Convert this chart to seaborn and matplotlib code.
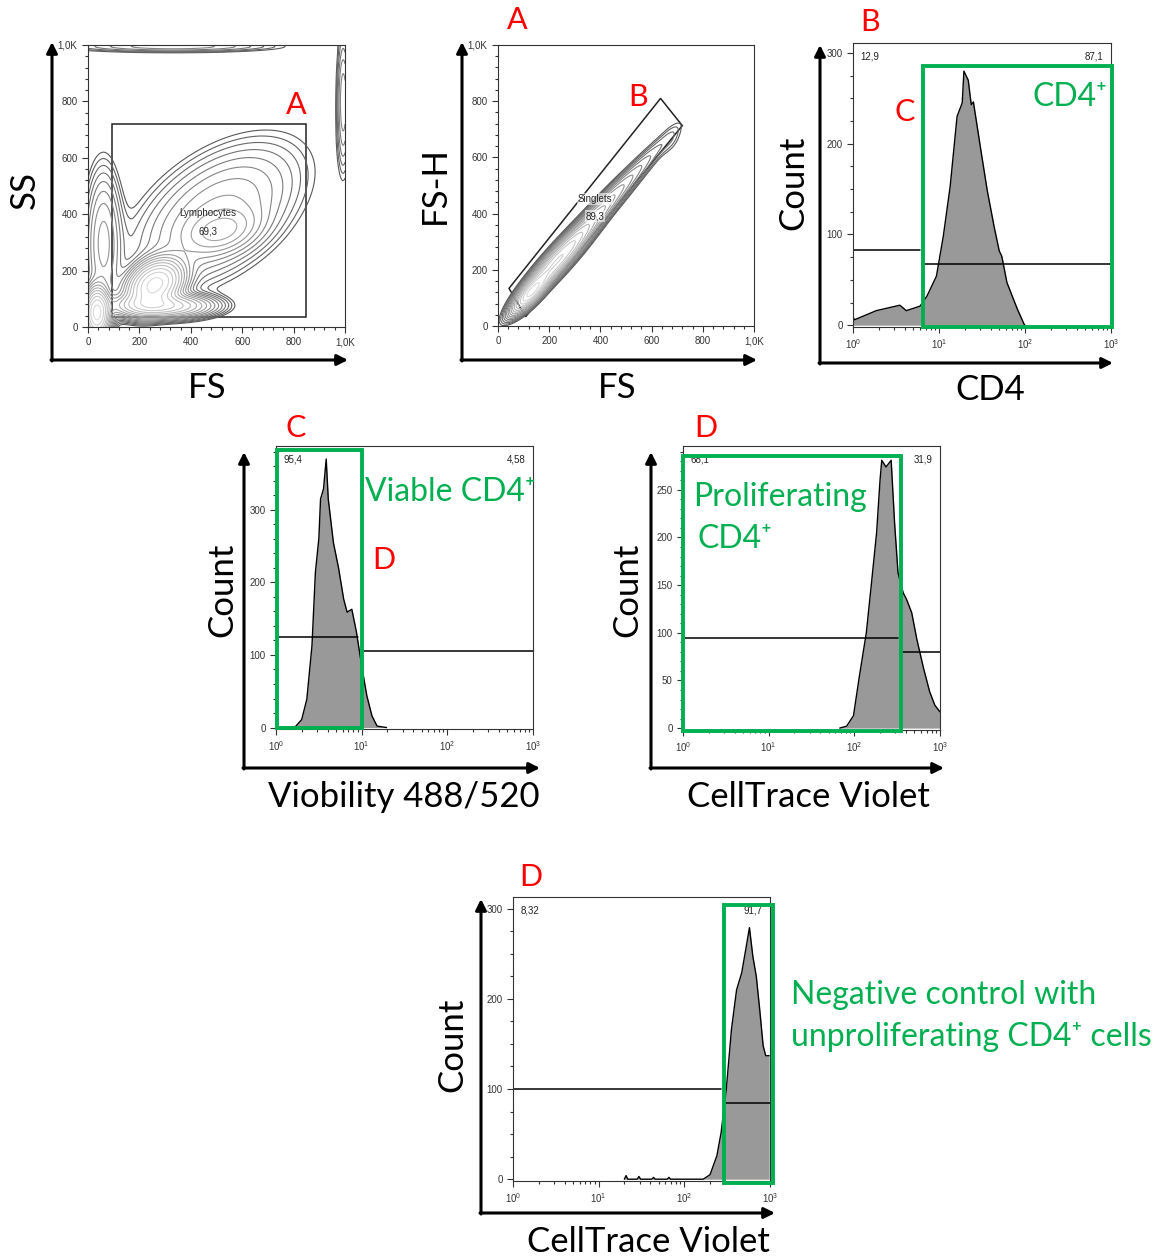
import numpy as np
import matplotlib
matplotlib.use("Agg")
import matplotlib.pyplot as plt
import seaborn as sns
from matplotlib.patches import Rectangle, Polygon
from matplotlib.ticker import MultipleLocator, FixedLocator, FixedFormatter, NullFormatter

sns.set_style("white")
plt.rcParams["font.family"] = ["Lato", "DejaVu Sans"]

W, H = 1158, 1258
GREEN = "#00B050"
RED = "#FF0000"
TICKFONT = "Liberation Sans"

# ---- SS vs FS contour: populations (centre, spread, correlation, weight)
ss_cx = [260, 280, 520, 500, 35, 60, 330, 993]
ss_cy = [150, 75, 340, 400, 50, 300, 995, 800]
ss_sx = [55, 100, 80, 180, 25, 40, 230, 15]
ss_sy = [45, 22, 45, 140, 45, 150, 12, 140]
ss_rho = [0.3, 0.0, 0.3, 0.5, 0.0, 0.0, 0.0, 0.0]
ss_w = [1.0, 0.5, 0.1, 0.08, 1.0, 0.08, 0.05, 0.05]
lymph_gate = [95, 35, 850, 720]          # x0, y0, x1, y1
lymph_label = ("Lymphocytes", "69,3")

# ---- FS-H vs FS contour
fsh_cx = [130, 230, 380, 560, 680]
fsh_cy = [120, 230, 390, 570, 660]
fsh_sx = [35, 75, 90, 90, 30]
fsh_sy = [35, 75, 90, 90, 40]
fsh_rho = [0.8, 0.93, 0.95, 0.95, 0.5]
fsh_w = [1.0, 0.8, 0.15, 0.03, 0.01]
singlet_gate_x = [43, 635, 720, 108]
singlet_gate_y = [134, 810, 713, 33]
singlet_label = ("Singlets", "89,3")

# ---- histograms: log10 position and count
cd4_dec = [0.0, 0.005, 0.02, 0.27, 0.545, 0.62, 0.78, 0.86, 0.97, 1.05, 1.13, 1.21, 1.27,
           1.29, 1.34, 1.375, 1.40, 1.48, 1.56, 1.64, 1.70, 1.73, 1.79, 1.91, 1.99, 2.0]
cd4_cnt = [0, 8, 6, 16, 22, 16, 21, 32, 54, 98, 153, 230, 245,
           280, 270, 243, 246, 197, 149, 109, 82, 76, 47, 18, 1, 0]
cd4_gates = [(1.0, 6.0, 83), (6.5, 1000, 67)]
cd4_pct = ("12,9", "87,1")

via_dec = [0.0, 0.225, 0.30, 0.36, 0.42, 0.46, 0.50, 0.52, 0.555, 0.586, 0.61, 0.67, 0.73,
           0.79, 0.83, 0.885, 0.94, 1.00, 1.06, 1.12, 1.18, 1.29]
via_cnt = [0, 1, 11, 39, 113, 214, 260, 315, 329, 370, 315, 255, 220,
           177, 159, 163, 131, 85, 44, 16, 2, 0]
via_gates = [(1.0, 9.0, 125), (10.5, 1000, 105)]
via_pct = ("95,4", "4,58")

ctv_dec = [1.83, 1.91, 1.99, 2.06, 2.14, 2.20, 2.26, 2.30, 2.32, 2.37, 2.43, 2.47, 2.51,
           2.57, 2.61, 2.67, 2.73, 2.81, 2.88, 2.94, 3.0]
ctv_cnt = [0, 2, 13, 55, 100, 152, 205, 260, 281, 274, 281, 215, 163,
           142, 135, 121, 93, 62, 38, 24, 17]
ctv_gates = [(1.0, 320, 95), (350, 1000, 80)]
ctv_pct = ("68,1", "31,9")

neg_dec = [1.30, 1.32, 1.34, 1.45, 1.47, 1.49, 1.62, 1.64, 1.66, 1.80, 1.82, 1.84, 2.22,
           2.30, 2.38, 2.43, 2.49, 2.55, 2.61, 2.67, 2.73, 2.76, 2.80, 2.84, 2.88, 2.92, 2.95, 2.99]
neg_cnt = [0, 4, 0, 0, 3, 0, 0, 2, 0, 0, 2, 0, 0,
           5, 26, 52, 100, 166, 210, 229, 262, 279, 247, 225, 188, 148, 137, 137]
neg_gates = [(1.0, 270, 100), (290, 1000, 85)]
neg_pct = ("8,32", "91,7")

fig = plt.figure(figsize=(W / 100, H / 100), dpi=100)


def px_axes(left, top, right, bottom):
    return fig.add_axes([left / W, 1 - bottom / H, (right - left) / W, (bottom - top) / H])


def style_axes(ax):
    for s in ax.spines.values():
        s.set_color("#333333")
        s.set_linewidth(0.8)
    ax.tick_params(which="both", direction="out", left=True, bottom=True,
                   colors="#333333", labelsize=7, width=0.8)
    ax.tick_params(which="major", length=4)
    ax.tick_params(which="minor", length=2.5)
    for lab in ax.get_xticklabels() + ax.get_yticklabels():
        lab.set_fontfamily(TICKFONT)


def linear_ticks(ax):
    for axis in (ax.xaxis, ax.yaxis):
        axis.set_major_locator(FixedLocator([0, 200, 400, 600, 800, 1000]))
        axis.set_major_formatter(FixedFormatter(["0", "200", "400", "600", "800", "1,0K"]))
        axis.set_minor_locator(MultipleLocator(40))


def density(cx, cy, sx, sy, rho, w):
    g = np.linspace(0, 1000, 400)
    gx, gy = np.meshgrid(g, g)
    z = np.zeros_like(gx)
    for a, b, s, t, r, k in zip(cx, cy, sx, sy, rho, w):
        u = (gx - a) / s
        v = (gy - b) / t
        z += k * np.exp(-(u * u - 2 * r * u * v + v * v) / (2 * (1 - r * r)))
    return gx, gy, z


def contour_panel(ax, cx, cy, sx, sy, rho, w, lo=0.008):
    gx, gy, z = density(cx, cy, sx, sy, rho, w)
    levels = np.geomspace(z.max() * lo, z.max() * 0.85, 16)
    cols = plt.cm.gray(np.linspace(0.35, 0.85, len(levels)))
    ax.contour(gx, gy, z, levels=levels, colors=cols, linewidths=0.8)
    ax.set_xlim(0, 1000)
    ax.set_ylim(0, 1000)
    linear_ticks(ax)
    style_axes(ax)


def hist_panel(ax, dec, cnt, gates, pct, ymax, ymajor, yminor):
    xs = 10 ** np.array(dec)
    ys = np.array(cnt)
    ax.set_xscale("log")
    ax.fill_between(xs, ys, color="#999999", lw=0)
    sns.lineplot(x=xs, y=ys, ax=ax, color="black", lw=1.0, estimator=None, sort=False)
    for x0, x1, gy in gates:
        ax.plot([x0, x1], [gy, gy], color="black", lw=1.1)
    ax.set_xlim(1, 1000)
    ax.set_ylim(-2, ymax)
    ax.yaxis.set_major_locator(MultipleLocator(ymajor))
    ax.yaxis.set_minor_locator(MultipleLocator(yminor))
    ax.xaxis.set_minor_formatter(NullFormatter())
    ax.text(0.03, 0.97, pct[0], transform=ax.transAxes, ha="left", va="top",
            fontsize=7, fontfamily=TICKFONT, color="#222222")
    ax.text(0.97, 0.97, pct[1], transform=ax.transAxes, ha="right", va="top",
            fontsize=7, fontfamily=TICKFONT, color="#222222")
    style_axes(ax)


# panel 1: SS vs FS
ax1 = px_axes(88, 45, 345, 327)
contour_panel(ax1, ss_cx, ss_cy, ss_sx, ss_sy, ss_rho, ss_w)
x0, y0, x1, y1 = lymph_gate
ax1.add_patch(Rectangle((x0, y0), x1 - x0, y1 - y0, fill=False, ec="#222222", lw=1.1))
ax1.text(467, 405, lymph_label[0], ha="center", va="center", fontsize=7, fontfamily=TICKFONT)
ax1.text(467, 340, lymph_label[1], ha="center", va="center", fontsize=7, fontfamily=TICKFONT)

# panel 2: FS-H vs FS
ax2 = px_axes(498, 45, 754, 326)
contour_panel(ax2, fsh_cx, fsh_cy, fsh_sx, fsh_sy, fsh_rho, fsh_w)
ax2.add_patch(Polygon(list(zip(singlet_gate_x, singlet_gate_y)), closed=True,
                      fill=False, ec="#222222", lw=1.1))
ax2.text(378, 452, singlet_label[0], ha="center", va="center", fontsize=7, fontfamily=TICKFONT,
         bbox=dict(fc="white", ec="none", alpha=0.6, pad=0.5))
ax2.text(378, 391, singlet_label[1], ha="center", va="center", fontsize=7, fontfamily=TICKFONT,
         bbox=dict(fc="white", ec="none", alpha=0.6, pad=0.5))

# panel 3: CD4
ax3 = px_axes(853, 43, 1111, 327)
hist_panel(ax3, cd4_dec, cd4_cnt, cd4_gates, cd4_pct, 311, 100, 25)

# panel 4: viability
ax4 = px_axes(276, 446, 533, 729)
hist_panel(ax4, via_dec, via_cnt, via_gates, via_pct, 388, 100, 20)

# panel 5: CellTrace Violet
ax5 = px_axes(683, 446, 940, 730)
hist_panel(ax5, ctv_dec, ctv_cnt, ctv_gates, ctv_pct, 296, 50, 10)

# panel 6: negative control
ax6 = px_axes(513, 897, 770, 1181)
hist_panel(ax6, neg_dec, neg_cnt, neg_gates, neg_pct, 313, 100, 25)

# overlay for arrows, labels and callouts (pixel coordinates)
ov = fig.add_axes([0, 0, 1, 1])
ov.set_xlim(0, W)
ov.set_ylim(H, 0)
ov.axis("off")
ov.patch.set_alpha(0)

corners = [(52, 360, 42, 348), (462, 360, 42, 757), (820, 363, 45, 1113),
           (244, 768, 452, 540), (651, 768, 452, 944), (481, 1213, 899, 775)]
for cx, cy, top, right in corners:
    ap = dict(arrowstyle="-|>", lw=2.2, color="black", mutation_scale=16, shrinkA=0, shrinkB=0)
    ov.annotate("", xy=(cx, top), xytext=(cx, cy + 1), arrowprops=ap)
    ov.annotate("", xy=(right, cy), xytext=(cx - 1, cy), arrowprops=ap)

big = 25
axis_labels = [("SS", 25, 190, 90), ("FS", 207, 388, 0), ("FS-H", 435, 185, 90),
               ("FS", 617, 388, 0), ("Count", 793, 183, 90), ("CD4", 990, 390, 0),
               ("Count", 222, 590, 90), ("Viobility 488/520", 404, 797, 0),
               ("Count", 627, 590, 90), ("CellTrace Violet", 808, 797, 0),
               ("Count", 452, 1045, 90), ("CellTrace Violet", 648, 1242, 0)]
for txt, x, y, rot in axis_labels:
    ov.text(x, y, txt, ha="center", va="center", rotation=rot, fontsize=big, color="black")

letters = [("A", 296, 105), ("A", 517, 20), ("B", 638, 97), ("B", 870, 22), ("C", 905, 112),
           ("C", 296, 428), ("D", 384, 560), ("D", 706, 428), ("D", 531, 877)]
for txt, x, y in letters:
    ov.text(x, y, txt, ha="center", va="center", fontsize=22, color=RED)

boxes = [(923, 66, 1112, 327), (277, 450, 362, 728), (683, 456, 901, 731), (724, 905, 773, 1183)]
for l, t, r, b in boxes:
    ov.add_patch(Rectangle((l, t), r - l, b - t, fill=False, ec=GREEN, lw=2.8))

gsize = 23
ov.text(1070, 97, "CD4\u207a", ha="center", va="center", fontsize=gsize, color=GREEN)
ov.text(450, 492, "Viable CD4\u207a", ha="center", va="center", fontsize=gsize, color=GREEN)
ov.text(693, 497, "Proliferating", ha="left", va="center", fontsize=gsize, color=GREEN)
ov.text(735, 539, "CD4\u207a", ha="center", va="center", fontsize=gsize, color=GREEN)
ov.text(791, 995, "Negative control with", ha="left", va="center", fontsize=gsize, color=GREEN)
ov.text(791, 1037, "unproliferating CD4\u207a cells", ha="left", va="center", fontsize=gsize, color=GREEN)

fig.savefig("out.png", dpi=100)
